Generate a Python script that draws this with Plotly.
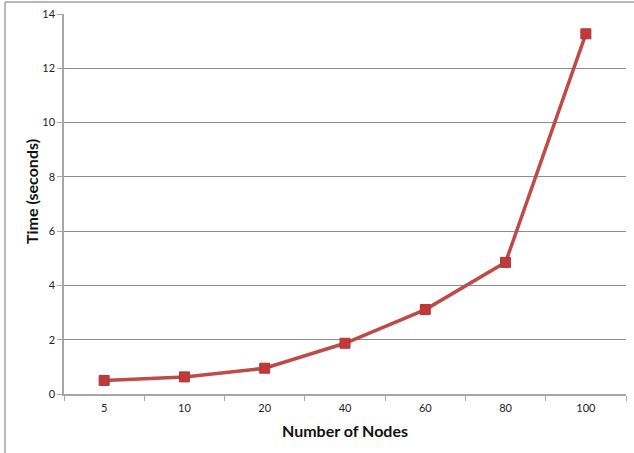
import plotly.graph_objects as go

# Scaling benchmark: run time vs. number of nodes
nodes = ["5", "10", "20", "40", "60", "80", "100"]
times = [0.5, 0.63, 0.95, 1.87, 3.11, 4.85, 13.27]
y_ticks = [0, 2, 4, 6, 8, 10, 12, 14]

W, H = 634, 453
ML, MR, MT, MB = 64, 8, 14, 59
plot_w = W - ML - MR
plot_h = H - MT - MB

fig = go.Figure()
fig.add_trace(go.Scatter(
    x=nodes,
    y=times,
    mode="lines+markers",
    line=dict(color="#BE4B48", width=3.5),
    marker=dict(symbol="square", size=10, color="#C0393B",
                line=dict(color="#B03535", width=1)),
    showlegend=False,
    cliponaxis=False,
))

grid_col = "#8C8C8C"
title_font = dict(family="Lato, Open Sans, sans-serif", size=16, color="#111111")
tick_font = dict(family="Lato, Open Sans, sans-serif", size=11, color="#222222")

fig.update_layout(
    width=W, height=H,
    margin=dict(l=ML, r=MR, t=MT, b=MB),
    paper_bgcolor="white",
    plot_bgcolor="white",
    font=dict(family="Lato, Open Sans, sans-serif", size=11, color="#222222"),
    xaxis=dict(
        type="category",
        range=[-0.5, len(nodes) - 0.5],
        showline=True, linecolor="#A6A6A6", linewidth=1.5,
        ticks="outside", ticklen=5, tickcolor="#A6A6A6",
        tickson="boundaries",
        showgrid=False,
        tickfont=tick_font,
        ticklabelstandoff=3,
    ),
    yaxis=dict(
        range=[0, 14],
        tickvals=y_ticks,
        showline=True, linecolor="#A6A6A6", linewidth=1.5,
        ticks="outside", ticklen=5, tickcolor="#A6A6A6",
        showgrid=True, gridcolor=grid_col, gridwidth=1,
        zeroline=False,
        tickfont=tick_font,
        ticklabelstandoff=0,
    ),
)

# Axis titles placed as annotations
fig.add_annotation(text="<b>Time (seconds)</b>", font=title_font,
                   xref="paper", yref="paper",
                   x=(31 - ML) / plot_w, y=(H - MB - 192) / plot_h,
                   xanchor="center", yanchor="middle",
                   textangle=-90, showarrow=False)
fig.add_annotation(text="<b>Number of Nodes</b>", font=title_font,
                   xref="paper", yref="paper",
                   x=0.5, y=-(430 - (H - MB)) / plot_h,
                   xanchor="center", yanchor="middle",
                   showarrow=False)

# Chart frame: outer border on the left and top edges
x_left = (5 - ML) / plot_w
y_top = 1 + (MT - 2) / plot_h
fig.add_shape(type="line", xref="paper", yref="paper",
              x0=x_left, x1=x_left, y0=-1, y1=y_top,
              line=dict(color="#A0A0A0", width=1.5))
fig.add_shape(type="line", xref="paper", yref="paper",
              x0=x_left, x1=2, y0=y_top, y1=y_top,
              line=dict(color="#A0A0A0", width=1.5))

fig.write_html("out.html")
